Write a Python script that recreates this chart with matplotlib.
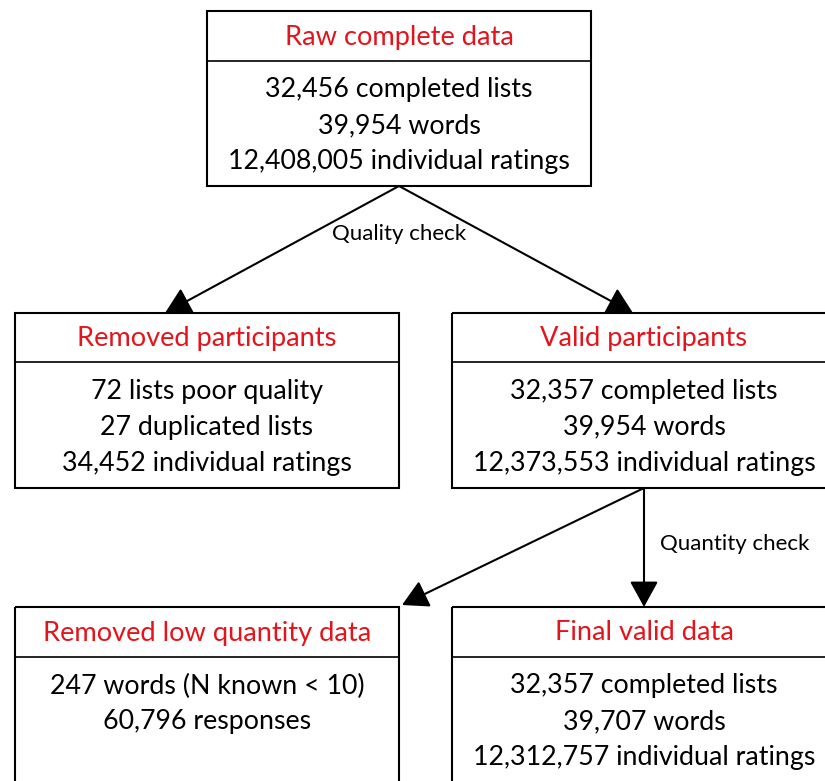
import matplotlib.pyplot as plt
from matplotlib.patches import Rectangle, FancyArrowPatch

plt.rcParams['font.family'] = ['Lato', 'DejaVu Sans']

# box contents
titles = ['Raw complete data', 'Removed participants', 'Valid participants',
          'Removed low quantity data', 'Final valid data']
bodies = [
    ['32,456 completed lists', '39,954 words', '12,408,005 individual ratings'],
    ['72 lists poor quality', '27 duplicated lists', '34,452 individual ratings'],
    ['32,357 completed lists', '39,954 words', '12,373,553 individual ratings'],
    ['247 words (N known < 10)', '60,796 responses'],
    ['32,357 completed lists', '39,707 words', '12,312,757 individual ratings'],
]
edge_labels = ['Quality check', 'Quantity check']

# layout in pixel coords: left, top, right, bottom, divider
boxes = [
    (207, 11, 591, 186, 61),
    (15, 313, 399, 488, 362),
    (452, 313, 840, 488, 362),
    (15, 607, 399, 800, 657),
    (452, 607, 840, 800, 657),
]

W, H = 825, 781
fig = plt.figure(figsize=(W / 100, H / 100), dpi=100)
ax = fig.add_axes([0, 0, 1, 1])
ax.set_xlim(0, W)
ax.set_ylim(H, 0)
ax.axis('off')

red = '#e3141b'
lw = 1.5
fs_title = 19.6
fs_body = 19.3

for (l, t, r, b, d), title, body in zip(boxes, titles, bodies):
    ax.add_patch(Rectangle((l, t), r - l, b - t, fill=False, ec='black', lw=lw,
                           clip_on=False))
    ax.plot([l, r], [d, d], color='black', lw=1.2, clip_on=False)
    cx = (l + r) / 2 if r <= W else 644
    ax.text(cx, (t + d) / 2 + 1, title, color=red, fontsize=fs_title,
            ha='center', va='center')
    for i, line in enumerate(body):
        ax.text(cx, d + 29 + 36 * i, line, color='black', fontsize=fs_body,
                ha='center', va='center')


def arrow(p0, p1):
    ax.add_patch(FancyArrowPatch(p0, p1, arrowstyle='-|>,head_length=1.0,head_width=0.55',
                                 mutation_scale=16, color='black', lw=lw,
                                 shrinkA=0, shrinkB=0))


arrow((399, 186), (165, 313))
arrow((399, 186), (633, 313))
arrow((644, 488), (644, 607))
arrow((644, 488), (402, 605))

ax.text(399, 234, edge_labels[0], fontsize=16, ha='center', va='center')
ax.text(660, 544, edge_labels[1], fontsize=16, ha='left', va='center')

fig.savefig('out.png', dpi=100, facecolor='white')
